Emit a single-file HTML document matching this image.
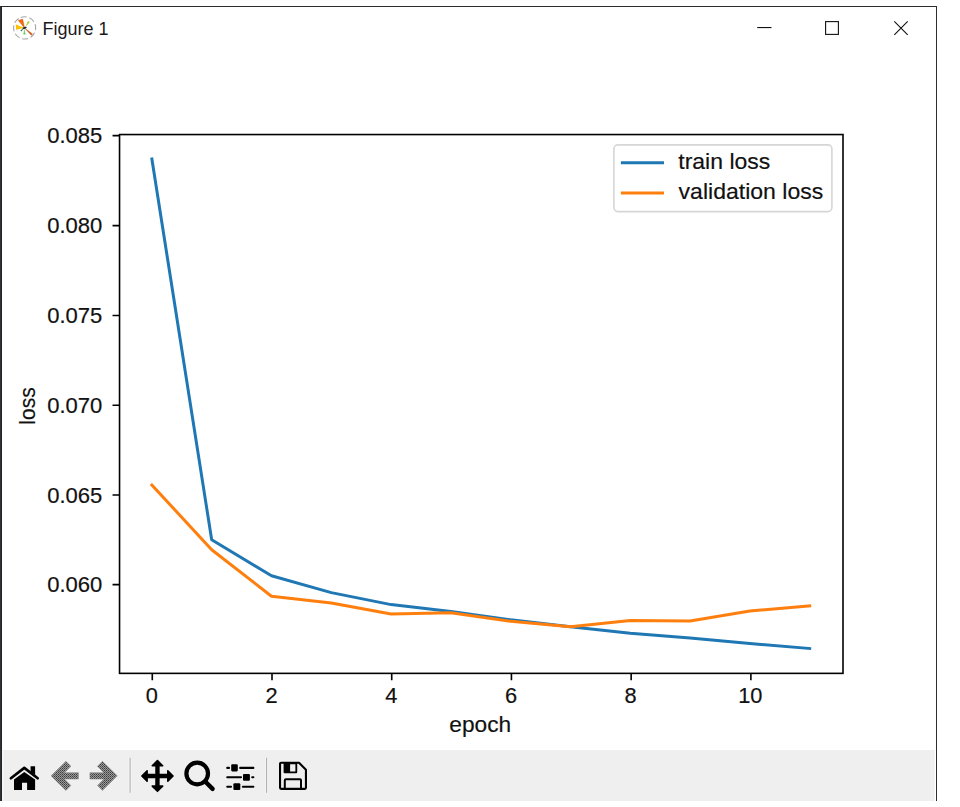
<!DOCTYPE html>
<html><head><meta charset="utf-8"><title>Figure 1</title>
<style>html,body{margin:0;padding:0;background:#fff;width:960px;height:807px;overflow:hidden}
svg{display:block;font-family:"Liberation Sans",sans-serif}</style></head>
<body><svg width="960" height="807" viewBox="0 0 960 807">
<rect x="0" y="6" width="937" height="795" fill="#ffffff"/>
<rect x="0" y="6" width="937" height="1" fill="#2b2b2b"/>
<rect x="0" y="6" width="1" height="795" fill="#2e3236"/>
<rect x="1" y="6" width="1" height="795" fill="#232527"/>
<rect x="936" y="6" width="1" height="795" fill="#2f2f2f"/>
<rect x="2" y="750" width="933" height="51" fill="#f4f4f4"/>
<rect x="4" y="750" width="930" height="51" fill="#efefef"/>
<g transform="translate(24.6 27.9)"><circle r="11.1" fill="none" stroke="#a6a6a6" stroke-width="1.1" stroke-dasharray="6.0 2.72" transform="rotate(-110)"/><path d="M0 0 L-6.3 -7.3 L-2.0 -8.8 Z" fill="#ff6a00" stroke="#b34a10" stroke-width="0.4"/><path d="M0.3 0.3 L7.9 6.2 L6.6 7.3 Z" fill="#f06010" stroke="#a04010" stroke-width="0.4"/><path d="M-0.5 0 L-8.8 -3.6 L-8.5 1.8 Z" fill="#ffc000"/><path d="M0.6 -0.6 L3.4 -6.9 L5.2 -5.8 Z" fill="#a0d020"/><path d="M-0.4 0.6 L-1.2 6.5 L1.0 6.5 Z" fill="#60d060"/><path d="M-0.3 0.4 L-4.2 2.4 L-3.4 3.6 Z" fill="#2f6a5a"/><ellipse rx="2.2" ry="1.0" transform="rotate(-15)" fill="#1d2430"/></g>
<text x="42.5" y="35.2" font-family="'Liberation Sans', sans-serif" font-size="18.6" fill="#1a1a1a" textLength="66" lengthAdjust="spacingAndGlyphs">Figure 1</text>
<rect x="757.2" y="27" width="14.3" height="1.1" fill="#111"/>
<rect x="825.6" y="21.6" width="12.8" height="12.8" fill="none" stroke="#111" stroke-width="1.1"/>
<path d="M894.3 21.4 L907.7 34.8 M907.7 21.4 L894.3 34.8" stroke="#111" stroke-width="1.1"/>
<rect x="119.54" y="134.55" width="723.46" height="538.82" fill="none" stroke="#000" stroke-width="1.6"/>
<path d="M112.54 135.67 H119.54 M112.54 225.66 H119.54 M112.54 315.45 H119.54 M112.54 405.30 H119.54 M112.54 495.00 H119.54 M112.54 584.67 H119.54 M152.28 673.37 V680.37 M272.00 673.37 V680.37 M391.72 673.37 V680.37 M511.44 673.37 V680.37 M631.16 673.37 V680.37 M750.88 673.37 V680.37" stroke="#000" stroke-width="1.6"/>
<text x="102.4" y="143.17" font-family="'Liberation Sans', sans-serif" font-size="21.8" fill="#111" stroke="#111" stroke-width="0.18" text-anchor="end" textLength="55.2" lengthAdjust="spacingAndGlyphs">0.085</text>
<text x="102.4" y="233.16" font-family="'Liberation Sans', sans-serif" font-size="21.8" fill="#111" stroke="#111" stroke-width="0.18" text-anchor="end" textLength="55.2" lengthAdjust="spacingAndGlyphs">0.080</text>
<text x="102.4" y="322.95" font-family="'Liberation Sans', sans-serif" font-size="21.8" fill="#111" stroke="#111" stroke-width="0.18" text-anchor="end" textLength="55.2" lengthAdjust="spacingAndGlyphs">0.075</text>
<text x="102.4" y="412.80" font-family="'Liberation Sans', sans-serif" font-size="21.8" fill="#111" stroke="#111" stroke-width="0.18" text-anchor="end" textLength="55.2" lengthAdjust="spacingAndGlyphs">0.070</text>
<text x="102.4" y="502.50" font-family="'Liberation Sans', sans-serif" font-size="21.8" fill="#111" stroke="#111" stroke-width="0.18" text-anchor="end" textLength="55.2" lengthAdjust="spacingAndGlyphs">0.065</text>
<text x="102.4" y="592.17" font-family="'Liberation Sans', sans-serif" font-size="21.8" fill="#111" stroke="#111" stroke-width="0.18" text-anchor="end" textLength="55.2" lengthAdjust="spacingAndGlyphs">0.060</text>
<text x="151.78" y="703.1" font-family="'Liberation Sans', sans-serif" font-size="21.8" fill="#111" stroke="#111" stroke-width="0.18" text-anchor="middle">0</text>
<text x="271.50" y="703.1" font-family="'Liberation Sans', sans-serif" font-size="21.8" fill="#111" stroke="#111" stroke-width="0.18" text-anchor="middle">2</text>
<text x="391.22" y="703.1" font-family="'Liberation Sans', sans-serif" font-size="21.8" fill="#111" stroke="#111" stroke-width="0.18" text-anchor="middle">4</text>
<text x="510.94" y="703.1" font-family="'Liberation Sans', sans-serif" font-size="21.8" fill="#111" stroke="#111" stroke-width="0.18" text-anchor="middle">6</text>
<text x="630.66" y="703.1" font-family="'Liberation Sans', sans-serif" font-size="21.8" fill="#111" stroke="#111" stroke-width="0.18" text-anchor="middle">8</text>
<text x="750.38" y="703.1" font-family="'Liberation Sans', sans-serif" font-size="21.8" fill="#111" stroke="#111" stroke-width="0.18" text-anchor="middle">10</text>
<text x="480.2" y="732.1" font-family="'Liberation Sans', sans-serif" font-size="22" fill="#111" stroke="#111" stroke-width="0.18" text-anchor="middle" textLength="61.8" lengthAdjust="spacingAndGlyphs">epoch</text>
<text transform="translate(35 406.0) rotate(-90)" font-family="'Liberation Sans', sans-serif" font-size="22" fill="#111" stroke="#111" stroke-width="0.18" text-anchor="middle" textLength="37.4" lengthAdjust="spacingAndGlyphs">loss</text>
<path d="M151.88 159.00 L211.68 539.80 L271.48 575.70 L331.28 592.60 L391.08 604.60 L450.88 611.40 L510.68 619.80 L570.48 626.80 L630.28 633.30 L690.08 638.00 L749.88 643.50 L809.68 648.50" fill="none" stroke="#1f77b4" stroke-width="3" stroke-linejoin="round" stroke-linecap="square"/>
<path d="M151.88 485.00 L211.68 549.70 L271.48 596.20 L331.28 603.00 L391.08 614.00 L450.88 612.80 L510.68 621.30 L570.48 626.80 L630.28 620.40 L690.08 620.90 L749.88 611.00 L809.68 605.90" fill="none" stroke="#ff7f0e" stroke-width="3" stroke-linejoin="round" stroke-linecap="square"/>
<rect x="613.9" y="144.9" width="218" height="66.7" rx="4" fill="#fff" fill-opacity="0.8" stroke="#d6d6d6" stroke-width="1.6"/>
<path d="M622.4 162.8 H662.5" stroke="#1f77b4" stroke-width="3" stroke-linecap="square"/>
<path d="M622.4 193.0 H662.5" stroke="#ff7f0e" stroke-width="3" stroke-linecap="square"/>
<text x="678.3" y="169.2" font-family="'Liberation Sans', sans-serif" font-size="22" fill="#111" stroke="#111" stroke-width="0.18" textLength="92" lengthAdjust="spacingAndGlyphs">train loss</text>
<text x="678.6" y="199.0" font-family="'Liberation Sans', sans-serif" font-size="22" fill="#111" stroke="#111" stroke-width="0.18" textLength="144.7" lengthAdjust="spacingAndGlyphs">validation loss</text>
<path d="M10.9 778.2 L24.3 767.9 L37.7 778.2" fill="none" stroke="#000" stroke-width="2.7" stroke-linecap="round" stroke-linejoin="round"/>
<path d="M30.6 766.3 H35.1 V775 L30.6 771.6 Z" fill="#000"/>
<path d="M14.0 779.6 L24.3 772.0 L35.1 779.6 V789.6 Q35.1 790.1 34.6 790.1 H27.1 V782.7 H22.0 V790.1 H14.5 Q14.0 790.1 14.0 789.6 Z" fill="#000"/>
<defs><pattern id="st" width="2" height="2" patternUnits="userSpaceOnUse"><rect width="2" height="2" fill="#9a9a9a"/><rect width="1" height="1" fill="#3c3c3c"/><rect x="1" y="1" width="1" height="1" fill="#5a5a5a"/></pattern></defs>
<path d="M51.10 775.85 L65.90 761.30 L70.85 766.25 L64.40 772.70 L78.40 772.70 L78.40 779.00 L64.40 779.00 L70.85 785.45 L65.90 790.40 Z" fill="url(#st)" stroke="#8a8a8a" stroke-width="0.6" stroke-linejoin="round"/>
<path d="M117.25 775.85 L102.45 761.30 L97.50 766.25 L103.95 772.70 L89.95 772.70 L89.95 779.00 L103.95 779.00 L97.50 785.45 L102.45 790.40 Z" fill="url(#st)" stroke="#8a8a8a" stroke-width="0.6" stroke-linejoin="round"/>
<rect x="128.6" y="757.8" width="3" height="35" fill="#f5f5f5"/>
<rect x="129.6" y="757.8" width="1" height="35" fill="#a9a9a9"/>
<rect x="265.1" y="757.8" width="3" height="35" fill="#f5f5f5"/>
<rect x="266.1" y="757.8" width="1" height="35" fill="#a9a9a9"/>
<path d="M157.45 763 V789 M144 775.95 H171" stroke="#000" stroke-width="4.4"/>
<path d="M157.45 760.6 L162.65 765.8 H152.25 Z M157.45 791.3 L162.65 786.1 H152.25 Z M141.9 775.95 L147.1 770.75 V781.15 Z M173 775.95 L167.8 770.75 V781.15 Z" fill="#000" stroke="#000" stroke-width="1.6" stroke-linejoin="round"/>
<circle cx="197.2" cy="773.5" r="10.8" fill="none" stroke="#000" stroke-width="4.2"/>
<path d="M205.2 781.5 L212.6 788.9" stroke="#000" stroke-width="4.4" stroke-linecap="round"/>
<path d="M227.25 767.9 H229.0 M240.2 767.9 H253.35 M227.25 777.3 H241.0 M252.2 777.3 H253.35 M227.25 786.8 H231.0 M242.9 786.8 H253.35" stroke="#000" stroke-width="2.1" stroke-linecap="round"/>
<rect x="231.2" y="764.3" width="6.6" height="7.1" rx="1.1" fill="#000"/>
<rect x="243.0" y="773.9" width="6.9" height="6.9" rx="1.1" fill="#000"/>
<rect x="233.4" y="783.2" width="6.9" height="6.9" rx="1.1" fill="#000"/>
<path d="M280.05 763.8 Q280.05 762.75 281.1 762.75 H299.0 L305.95 769.7 V787.85 Q305.95 788.9 304.9 788.9 H281.1 Q280.05 788.9 280.05 787.85 Z" fill="none" stroke="#000" stroke-width="2.1" stroke-linejoin="round"/>
<path d="M283.6 762.7 H297.2 V772.2 Q297.2 773.2 296.2 773.2 H284.6 Q283.6 773.2 283.6 772.2 Z M290.1 764.3 V771.6 H295.4 V764.3 Z" fill="#000" fill-rule="evenodd"/>
<path d="M284.8 788.9 V780.3 Q284.8 779.3 285.8 779.3 H300.0 Q301.0 779.3 301.0 780.3 V788.9" fill="none" stroke="#000" stroke-width="2.0"/>
</svg></body></html>
